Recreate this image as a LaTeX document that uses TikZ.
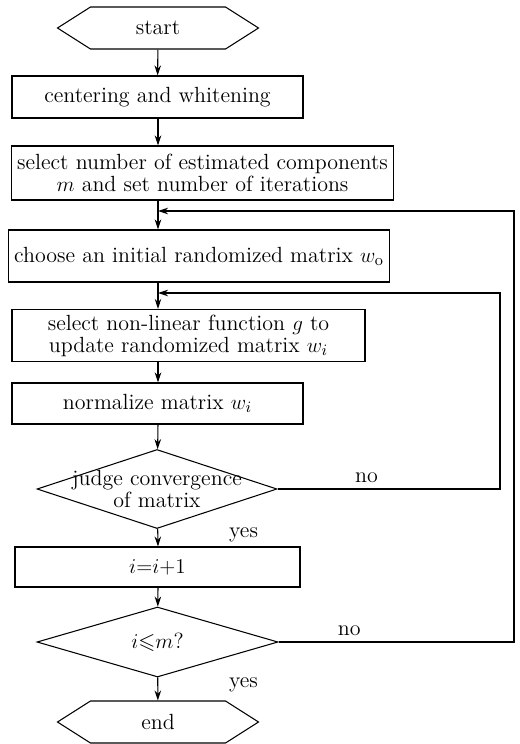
\documentclass[tikz,border=0pt]{standalone}
\usepackage{amsmath,amssymb}
\usepackage{tikz}
\usetikzlibrary{arrows.meta,positioning,shapes.geometric,shapes.symbols,calc}

\begin{document}
\begin{tikzpicture}[
          every node/.style={font=\fontsize{12.5}{12.5}\selectfont},
          line width=0.6pt,
          box/.style={draw, rectangle, minimum height=0.84cm,
                      align=center, inner sep=3pt},
          term/.style={draw, signal, signal to=west and east,
                       signal pointer angle=65, inner sep=0pt,
                       minimum width=4.02cm, minimum height=0.84cm},
          dec/.style={draw, diamond, inner sep=0pt},
          arr/.style={-{Stealth[length=2mm, width=1.3mm]}, line width=0.6pt}
      ]
        \useasboundingbox (0,0) rectangle (10.4,-14.88);
        \coordinate (axis) at (3.16,0);

        \node[term] (start) at (3.16,-0.56) {start};

        \node[box, minimum width=5.82cm] (center) at (3.15,-1.94)
              {centering and whitening};

        \node[box, minimum width=7.62cm, minimum height=1.08cm] (select) at (4.05,-3.46)
              {select number of estimated components \\ $m$ and set number of iterations};

        \node[box, minimum width=7.48cm, minimum height=1.04cm] (init) at (3.98,-5.12)
              {choose an initial randomized matrix $w_{\mathrm{o}}$};

        \node[box, minimum width=7.06cm, minimum height=0.98cm] (update) at (3.77,-6.71)
              {select non-linear function $g$ to \\ update randomized matrix $w_i$};

        \node[box, minimum width=5.82cm, minimum height=0.82cm] (norm) at (3.15,-8.07)
              {normalize matrix $w_i$};

        \node[dec, minimum width=4.8cm, minimum height=1.58cm,
              label={[align=center]center:judge convergence \\ of matrix}] (conv) at (3.14,-9.78) {};

        \node[box, minimum width=5.7cm, minimum height=0.8cm] (incr) at (3.15,-11.34)
              {$i{=}i{+}1$};

        \node[dec, minimum width=4.82cm, minimum height=1.4cm,
              label={center:$i{\leqslant}m$?}] (check) at (3.15,-12.84) {};

        \node[term] (end) at (3.16,-14.44) {end};

        % loop joints
        \coordinate (join1) at (3.16,-4.22);
        \coordinate (join2) at (3.16,-5.86);
        \coordinate (outer) at (10.28,0);
        \coordinate (inner) at (10.0,0);

        \draw[arr] (start)  -- (center);
        \draw[arr] (center.south -| axis) -- (select.north -| axis);
        \draw (select.south -| axis) -- (join1);
        \draw[arr] (join1) -- (init.north -| axis);
        \draw (init.south -| axis) -- (join2);
        \draw[arr] (join2) -- (update.north -| axis);
        \draw[arr] (update.south -| axis) -- (norm.north -| axis);
        \draw[arr] (norm.south -| axis) -- (conv);
        \draw[arr] (conv)   -- (incr.north -| axis)
              node[pos=0.35, right=1.3cm] (yes1) {yes};
        \draw[arr] (incr.south -| axis) -- (check);
        \draw[arr] (check)  -- (end)
              node[pos=0.3, right=1.3cm] (yes2) {yes};

        \draw[arr] (conv.east) -- (conv.east -| inner)
              node[pos=0.4, above] (no1) {no}
              |- (join2);
        \draw[arr] (check.east) -- (check.east -| outer)
              node[pos=0.3, above] (no2) {no}
              |- (join1);
      \end{tikzpicture}
\end{document}
